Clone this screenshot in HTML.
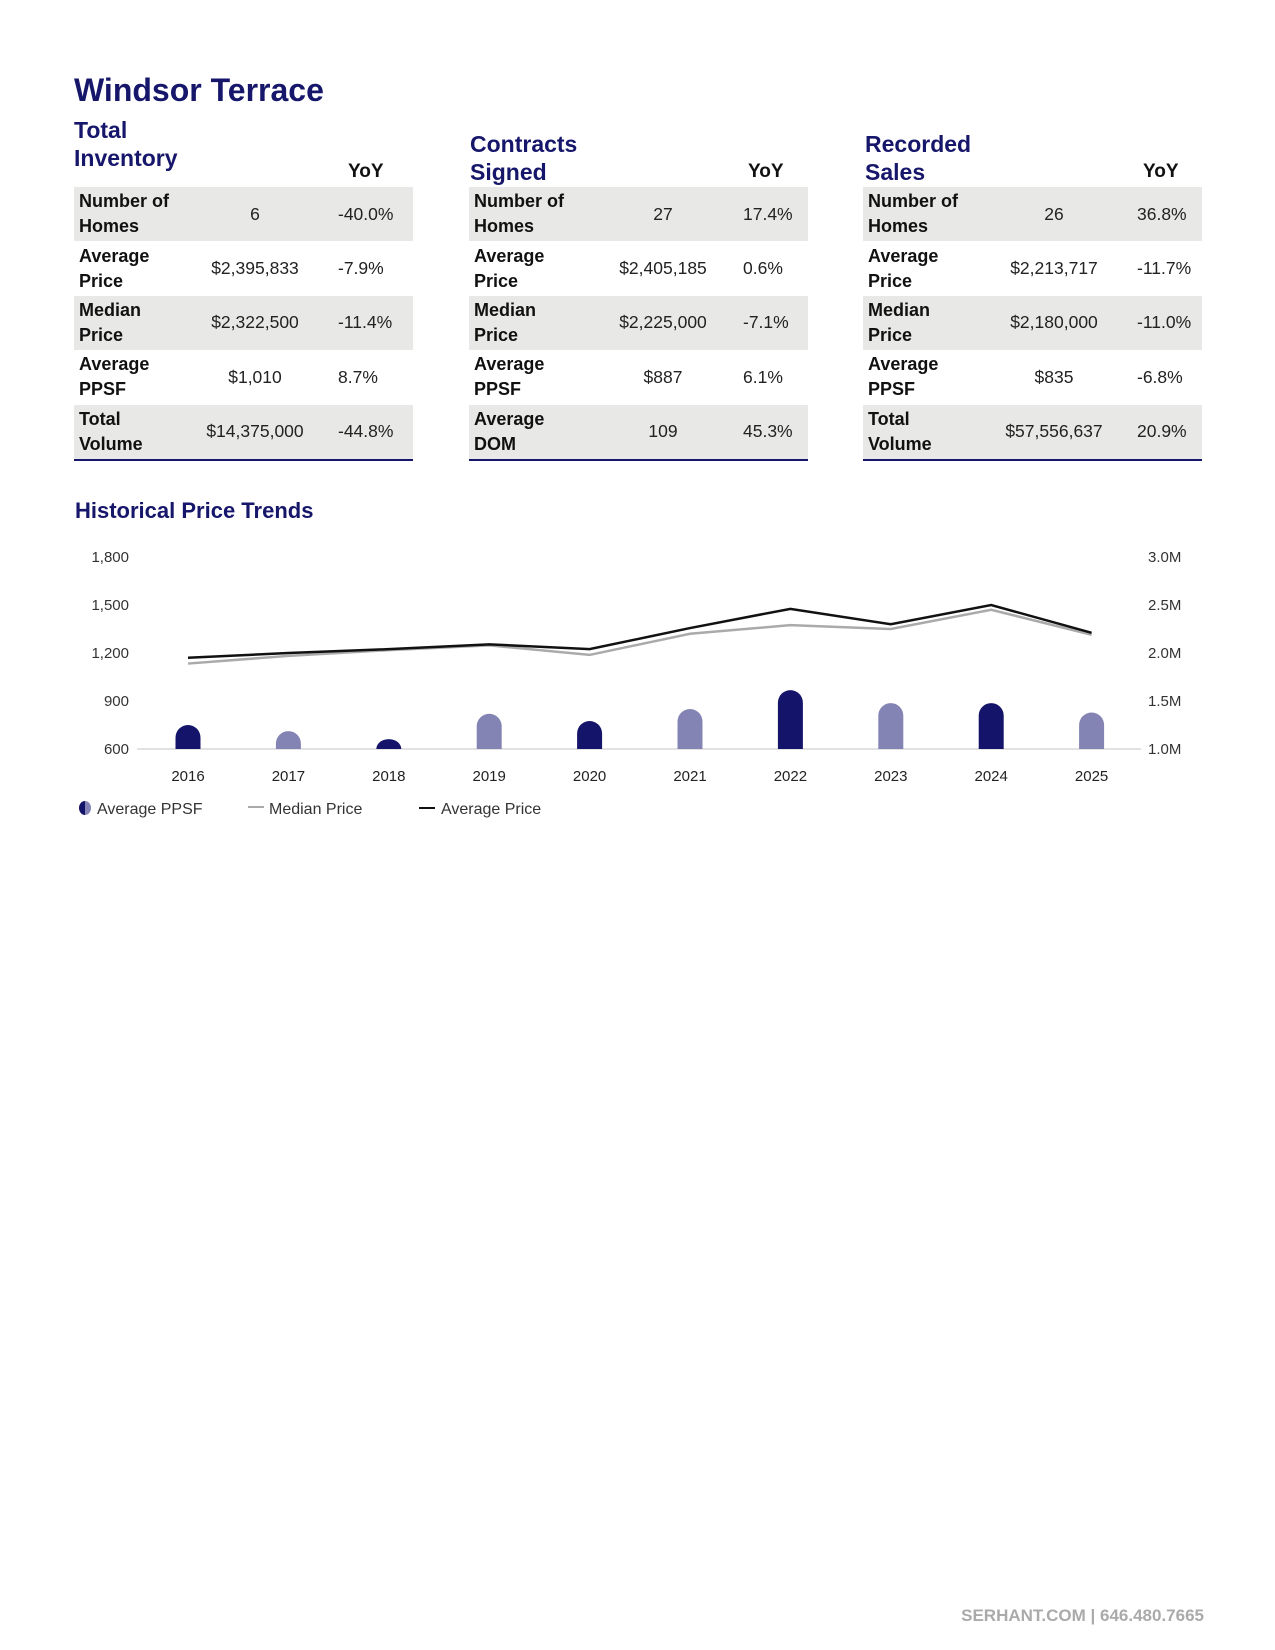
<!DOCTYPE html>
<html><head><meta charset="utf-8"><style>
body{margin:0;width:1275px;height:1650px;background:#fff;position:relative;font-family:"Liberation Sans",sans-serif;overflow:hidden}
.abs{position:absolute}
h1{position:absolute;left:74px;top:72px;margin:0;font-size:32px;color:#16166b;font-weight:bold}
.sec{position:absolute;font-size:23px;font-weight:bold;color:#16166b;line-height:28px}
.yoy{position:absolute;font-size:19px;font-weight:bold;color:#111}
table{position:absolute;border-collapse:collapse;width:339px;top:187px;border-bottom:2px solid #16166b;table-layout:fixed}
td{height:54.4px;padding:0;font-size:17.5px;color:#222;vertical-align:middle;white-space:nowrap}
td.l{font-weight:bold;padding-left:5px;line-height:25px;font-size:18px;color:#111;white-space:normal}
td.v{text-align:center}
tr:nth-child(odd){background:#e8e9e6}
</style></head><body>
<h1>Windsor Terrace</h1>

<div class="sec" style="left:74px;top:116px">Total<br>Inventory</div>
<div class="yoy" style="left:348px;top:161px">YoY</div>
<table style="left:74px">
<colgroup><col style="width:120px"><col style="width:122px"><col></colgroup>
<tr><td class="l">Number of<br>Homes</td><td class="v">6</td><td style="padding-left:22px">-40.0%</td></tr>
<tr><td class="l">Average<br>Price</td><td class="v">$2,395,833</td><td style="padding-left:22px">-7.9%</td></tr>
<tr><td class="l">Median<br>Price</td><td class="v">$2,322,500</td><td style="padding-left:22px">-11.4%</td></tr>
<tr><td class="l">Average<br>PPSF</td><td class="v">$1,010</td><td style="padding-left:22px">8.7%</td></tr>
<tr><td class="l">Total<br>Volume</td><td class="v">$14,375,000</td><td style="padding-left:22px">-44.8%</td></tr>
</table>

<div class="sec" style="left:470px;top:130px">Contracts<br>Signed</div>
<div class="yoy" style="left:748px;top:161px">YoY</div>
<table style="left:469px">
<colgroup><col style="width:130px"><col style="width:128px"><col></colgroup>
<tr><td class="l">Number of<br>Homes</td><td class="v">27</td><td style="padding-left:16px">17.4%</td></tr>
<tr><td class="l">Average<br>Price</td><td class="v">$2,405,185</td><td style="padding-left:16px">0.6%</td></tr>
<tr><td class="l">Median<br>Price</td><td class="v">$2,225,000</td><td style="padding-left:16px">-7.1%</td></tr>
<tr><td class="l">Average<br>PPSF</td><td class="v">$887</td><td style="padding-left:16px">6.1%</td></tr>
<tr><td class="l">Average<br>DOM</td><td class="v">109</td><td style="padding-left:16px">45.3%</td></tr>
</table>

<div class="sec" style="left:865px;top:130px">Recorded<br>Sales</div>
<div class="yoy" style="left:1143px;top:161px">YoY</div>
<table style="left:863px">
<colgroup><col style="width:130px"><col style="width:122px"><col></colgroup>
<tr><td class="l">Number of<br>Homes</td><td class="v">26</td><td style="padding-left:22px">36.8%</td></tr>
<tr><td class="l">Average<br>Price</td><td class="v">$2,213,717</td><td style="padding-left:22px">-11.7%</td></tr>
<tr><td class="l">Median<br>Price</td><td class="v">$2,180,000</td><td style="padding-left:22px">-11.0%</td></tr>
<tr><td class="l">Average<br>PPSF</td><td class="v">$835</td><td style="padding-left:22px">-6.8%</td></tr>
<tr><td class="l">Total<br>Volume</td><td class="v">$57,556,637</td><td style="padding-left:22px">20.9%</td></tr>
</table>

<div class="abs" style="left:75px;top:498px;font-size:22px;font-weight:bold;color:#16166b">Historical Price Trends</div>

<svg class="abs" style="left:0;top:0" width="1275" height="1650" id="chart"></svg>

<div class="abs" style="right:71px;top:1606px;font-size:17px;font-weight:bold;color:#aaa">SERHANT.COM | 646.480.7665</div>

<script>
const years=[2016,2017,2018,2019,2020,2021,2022,2023,2024,2025];
const ppsf=[750,712,662,820,775,850,968,887,887,828];
const avgPrice=[1.95,2.0,2.04,2.09,2.04,2.26,2.46,2.30,2.50,2.21];
const medPrice=[1.89,1.97,2.03,2.08,1.98,2.20,2.29,2.25,2.45,2.19];
const leftTicks=[600,900,1200,1500,1800];
const rightTicks=[1.0,1.5,2.0,2.5,3.0];
const rightLabels=["1.0M","1.5M","2.0M","2.5M","3.0M"];
const NS="http://www.w3.org/2000/svg";
const svg=document.getElementById('chart');
const x=i=>188+i*100.4;
const yL=v=>749-(v-600)*0.16;
const yR=v=>749-(v-1)*96;
function mk(t,a){const e=document.createElementNS(NS,t);for(const k in a)e.setAttribute(k,a[k]);svg.appendChild(e);return e;}
let ax=mk('line',{x1:137,x2:1141,y1:749,y2:749,stroke:'#e2e2e2','stroke-width':2});


leftTicks.forEach(v=>{const t=mk('text',{x:129,y:yL(v)+5,'text-anchor':'end','font-size':15,fill:'#333'});t.textContent=v.toLocaleString('en-US');

});
rightTicks.forEach((v,i)=>{const t=mk('text',{x:1148,y:yR(v)+5,'font-size':15,fill:'#333'});t.textContent=rightLabels[i];

});
years.forEach((yr,i)=>{const t=mk('text',{x:x(i),y:781,'text-anchor':'middle','font-size':15,fill:'#222'});t.textContent=yr;

});
ppsf.forEach((v,i)=>{const w=25,top=yL(v),h=749-top,r=Math.min(12.5,h);
const p=mk('path',{d:`M${x(i)-w/2},749 V${top+r} A12.5,${r} 0 0 1 ${x(i)+w/2},${top+r} V749 Z`,fill:i%2?'#8484b4':'#14146b'});

});
const pl=(arr,c,n)=>{const l=mk('polyline',{points:arr.map((v,i)=>x(i)+','+yR(v)).join(' '),fill:'none',stroke:c,'stroke-width':2.5});

};
pl(medPrice,'#aaa','median-price-line');
pl(avgPrice,'#111','average-price-line');
let g=mk('path',{d:'M85,801 A6,7 0 0 0 85,815 Z',fill:'#14146b'});


g=mk('path',{d:'M85,801 A6,7 0 0 1 85,815 Z',fill:'#8484b4'});


g=mk('line',{x1:248,x2:264,y1:807,y2:807,stroke:'#aaa','stroke-width':2});


g=mk('line',{x1:419,x2:435,y1:808,y2:808,stroke:'#111','stroke-width':2});


[[97,'Average PPSF'],[269,'Median Price'],[441,'Average Price']].forEach(([lx,s])=>{const t=mk('text',{x:lx,y:814,'font-size':16,fill:'#333'});t.textContent=s;

});
</script>
</body></html>
